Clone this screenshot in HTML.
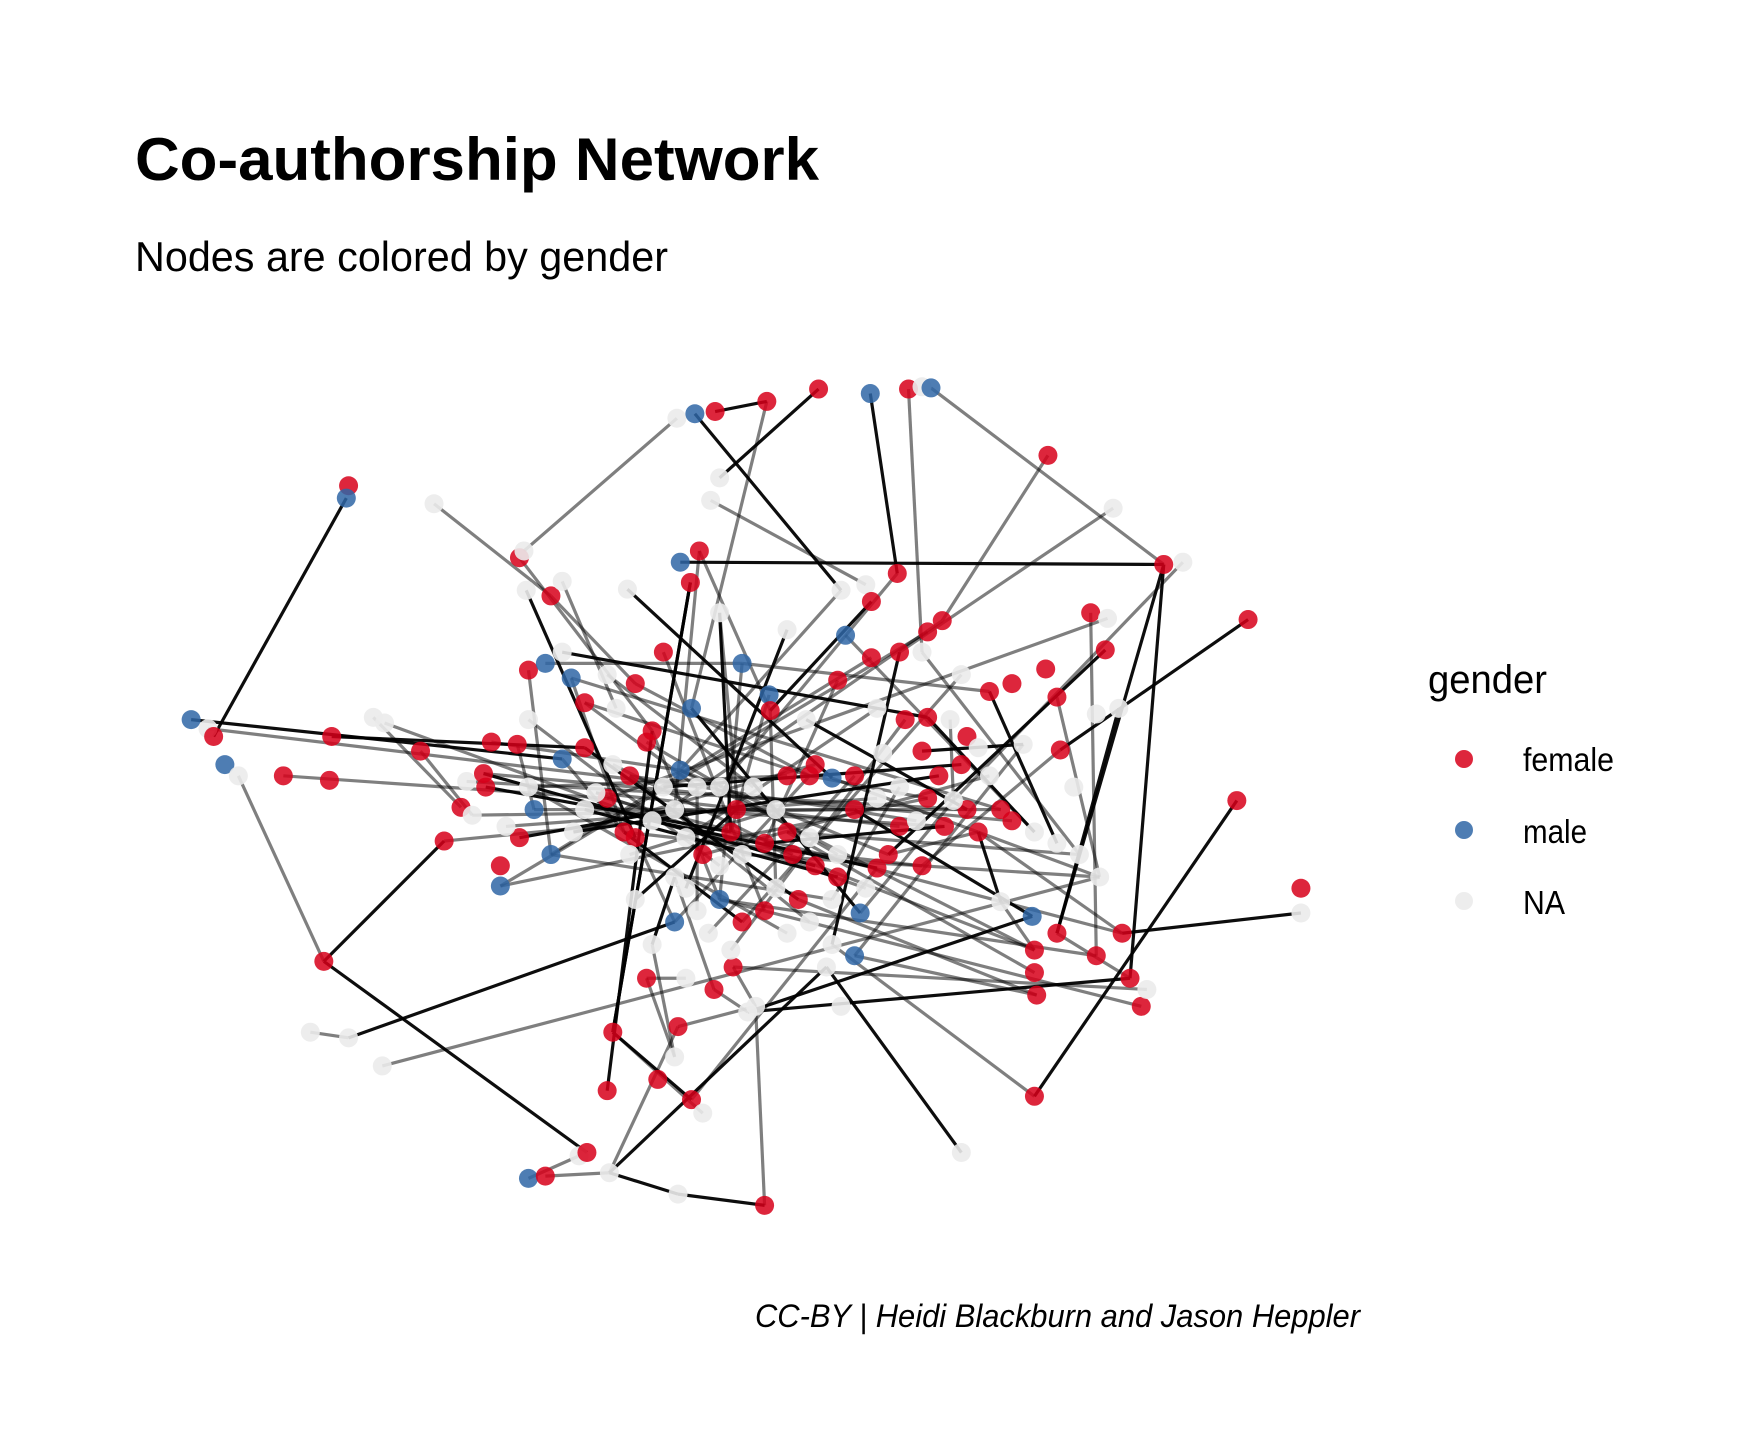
<!DOCTYPE html>
<html><head><meta charset="utf-8"><style>
html,body{margin:0;padding:0;background:#fff;}
svg{display:block;font-family:"Liberation Sans Narrow","Liberation Sans",sans-serif;}
</style></head><body>
<svg id="chart" width="1754" height="1454" viewBox="0 0 1754 1454" xmlns="http://www.w3.org/2000/svg">
<rect width="1754" height="1454" fill="#fff"/>
<text x="135" y="180" font-size="60" font-weight="bold" textLength="684" lengthAdjust="spacingAndGlyphs">Co-authorship Network</text>
<text x="135" y="271" font-size="42" textLength="533" lengthAdjust="spacingAndGlyphs">Nodes are colored by gender</text>
<g id="edges"></g>
<g id="nodes"></g>
<g>
<text x="1428" y="693" font-size="40" textLength="119" lengthAdjust="spacingAndGlyphs">gender</text>
<circle cx="1464" cy="759" r="9" fill="#d7001a" fill-opacity="0.85"/>
<text x="1523" y="771" font-size="33" textLength="91" lengthAdjust="spacingAndGlyphs">female</text>
<circle cx="1464" cy="830" r="9" fill="#2f66a6" fill-opacity="0.85"/>
<text x="1523" y="843" font-size="33" textLength="64" lengthAdjust="spacingAndGlyphs">male</text>
<circle cx="1464" cy="901" r="9" fill="#ededed"/>
<text x="1523" y="914" font-size="33" textLength="42" lengthAdjust="spacingAndGlyphs">NA</text>
</g>
<text x="755" y="1327" font-size="32" font-style="italic" textLength="605" lengthAdjust="spacingAndGlyphs">CC-BY | Heidi Blackburn and Jason Heppler</text>
</svg>
<script>
const nodeX=[602,618,636,682,728,774,808,820,828,932,990,1035,1052,1110,310,308,386,170,185,190,200,212,252,293,295,332,342,374,462,466,468,490,500,558,605,614,622,640,640,632,748,770,798,775,838,970,985,983,930,900,940,995,975,470,485,508,500,520,548,565,580,615,660,684,685,717,745,752,775,800,820,825,855,880,910,943,955,1100,1157,1157,437,460,415,432,410,395,420,445,445,462,475,490,500,520,540,555,565,580,600,605,620,640,650,660,680,700,720,740,720,760,790,820,840,860,870,890,920,940,960,978,825,848,800,785,820,825,845,860,870,600,620,640,600,660,690,710,740,765,780,740,735,760,890,918,940,998,920,920,975,1005,1015,1020,922,920,855,575,603,545,540,585,615,625,600,665,672,635,610,580,288,276,310,340,515,522,470,485,542,603,680,748,652,
430,450,470,510,530,560,575,590,610,625,640,655,670,690,705,725,745,760,780,800,815,835,855,880,900,610,630,650,680,700,720,745,770,560,545,470,540,590,700,725,520,700,805,780,565];
const nodeY=[372,368,366,357,346,350,346,344,345,405,452,502,500,551,432,443,448,640,648,655,680,690,690,694,655,638,643,668,496,490,525,530,517,524,500,518,490,545,425,445,525,520,510,535,552,545,550,578,595,608,620,630,635,596,590,603,580,625,630,608,650,630,590,618,632,640,605,565,585,580,580,562,600,615,662,667,700,712,790,812,660,662,695,700,718,748,725,770,788,745,720,760,675,665,710,740,745,730,720,685,700,700,740,760,750,740,745,692,690,720,760,770,735,720,740,720,740,750,760,780,710,712,700,670,668,638,640,655,665,780,810,800,820,820,790,800,800,812,772,840,860,850,802,815,830,830,845,865,850,870,895,880,885,975,1025,870,913,918,970,960,978,990,940,900,895,880,870,840,855,918,923,948,1028,1025,1048,1046,1043,1062,1072,895,860,
688,735,700,740,705,690,660,700,745,760,770,720,700,720,760,770,760,690,710,735,730,690,680,690,730,790,830,845,810,830,820,780,790,760,680,640,600,580,560,680,720,690,640,630,800];
const nodeGender=("nmfffmfnmf"+"nfnffmnmnf"+"mnfffnnffn"+"nfnnmffnnn"+"nnffffnfff"+"fnnfmmnfnf"+"fmmmfnfmff"+"nfnfnfnffn"+"ffnfffnfmf"+"mmmffffnnm"+"nnfnffnmff"+"ffffffnnnn"+"fnnnffnfnn"+"nmmfnfnmfn"+"nmnmffffff"+"fnffnfffff"+"fnnnnfnnfn"+"nnnfmfnnfnf"+
"fnnnnffnnf"+"nfnnffnfnf"+"nffnfnnnfn"+"nfnnnnnfnf"+"nffnn").split("");
const edgeFrom=[15,1,34,11,11,168,168,170,176,157,158,2,177,17,77,0,5,8,9,10,13,16,39,25,79,21,169,171,154,153,172,175,176,176,164,157,30,31,36,36,35,37,40,42,43,44,45,46,47,53,54,55,56,57,59,60,61,62,63,64,65,66,67,68,69,70,71,72,73,74,80,81,83,85,86,88,89,90,91,92,93,94,95,96,97,99,100,102,104,105,107,108,109,110,112,114,116,118,120,122,124,126,129,131,133,135,137,138,142,144,146,148,149,151,155,156,160,162,165,166,167,180,18,22,24,26,27,32,33,28,12,50,51,75,113,119,143,141,6,3,4,
181,182,183,184,185,186,187,188,189,190,191,192,193,194,195,196,198,200,201,206,208,209,210,212,220,62,99,37,55,57];
const edgeTo=[19,40,11,144,149,85,173,132,140,35,60,3,178,92,153,29,42,11,44,69,75,31,41,84,145,168,170,119,140,139,174,176,177,156,178,161,96,59,98,64,157,103,99,101,64,97,148,94,110,91,62,95,125,100,108,131,137,73,102,134,113,104,116,91,139,118,88,133,117,141,99,90,102,97,109,120,98,115,136,95,135,145,111,132,138,146,130,146,112,147,119,132,143,114,98,145,125,105,108,136,74,121,165,150,95,152,121,160,114,149,142,131,163,180,162,164,157,167,163,155,129,164,100,94,93,97,86,58,107,60,121,119,144,111,82,103,163,152,70,61,38,
205,199,222,202,213,211,197,203,224,204,216,225,217,214,215,181,207,185,186,219,223,218,183,221,184,131,110,102,115,108];
const sx=v=>v*1.1244, sy=v=>v*1.1244;
const colors={f:"#d7001a",m:"#2f66a6",n:"#ebebeb"};
const NS="http://www.w3.org/2000/svg";
const eg=document.getElementById("edges"), ng=document.getElementById("nodes");
for(let i=0;i<edgeFrom.length;i++){
  const a=edgeFrom[i], b=edgeTo[i];
  const l=document.createElementNS(NS,"line");
  l.setAttribute("x1",sx(nodeX[a]));l.setAttribute("y1",sy(nodeY[a]));
  l.setAttribute("x2",sx(nodeX[b]));l.setAttribute("y2",sy(nodeY[b]));
  l.setAttribute("stroke","#000");
  l.setAttribute("stroke-opacity",(i<15||i%4===0)?"0.95":"0.5");
  l.setAttribute("stroke-width","3.2");
  
  
  eg.appendChild(l);
}
for(let i=0;i<nodeX.length;i++){
  const c=document.createElementNS(NS,"circle");
  c.setAttribute("cx",sx(nodeX[i]));c.setAttribute("cy",sy(nodeY[i]));
  c.setAttribute("r","9.5");
  const g=nodeGender[i]||"n";
  c.setAttribute("fill",colors[g]);
  c.setAttribute("fill-opacity",g==="n"?"0.9":"0.85");
  
  
  ng.appendChild(c);
}
</script>
</body></html>
